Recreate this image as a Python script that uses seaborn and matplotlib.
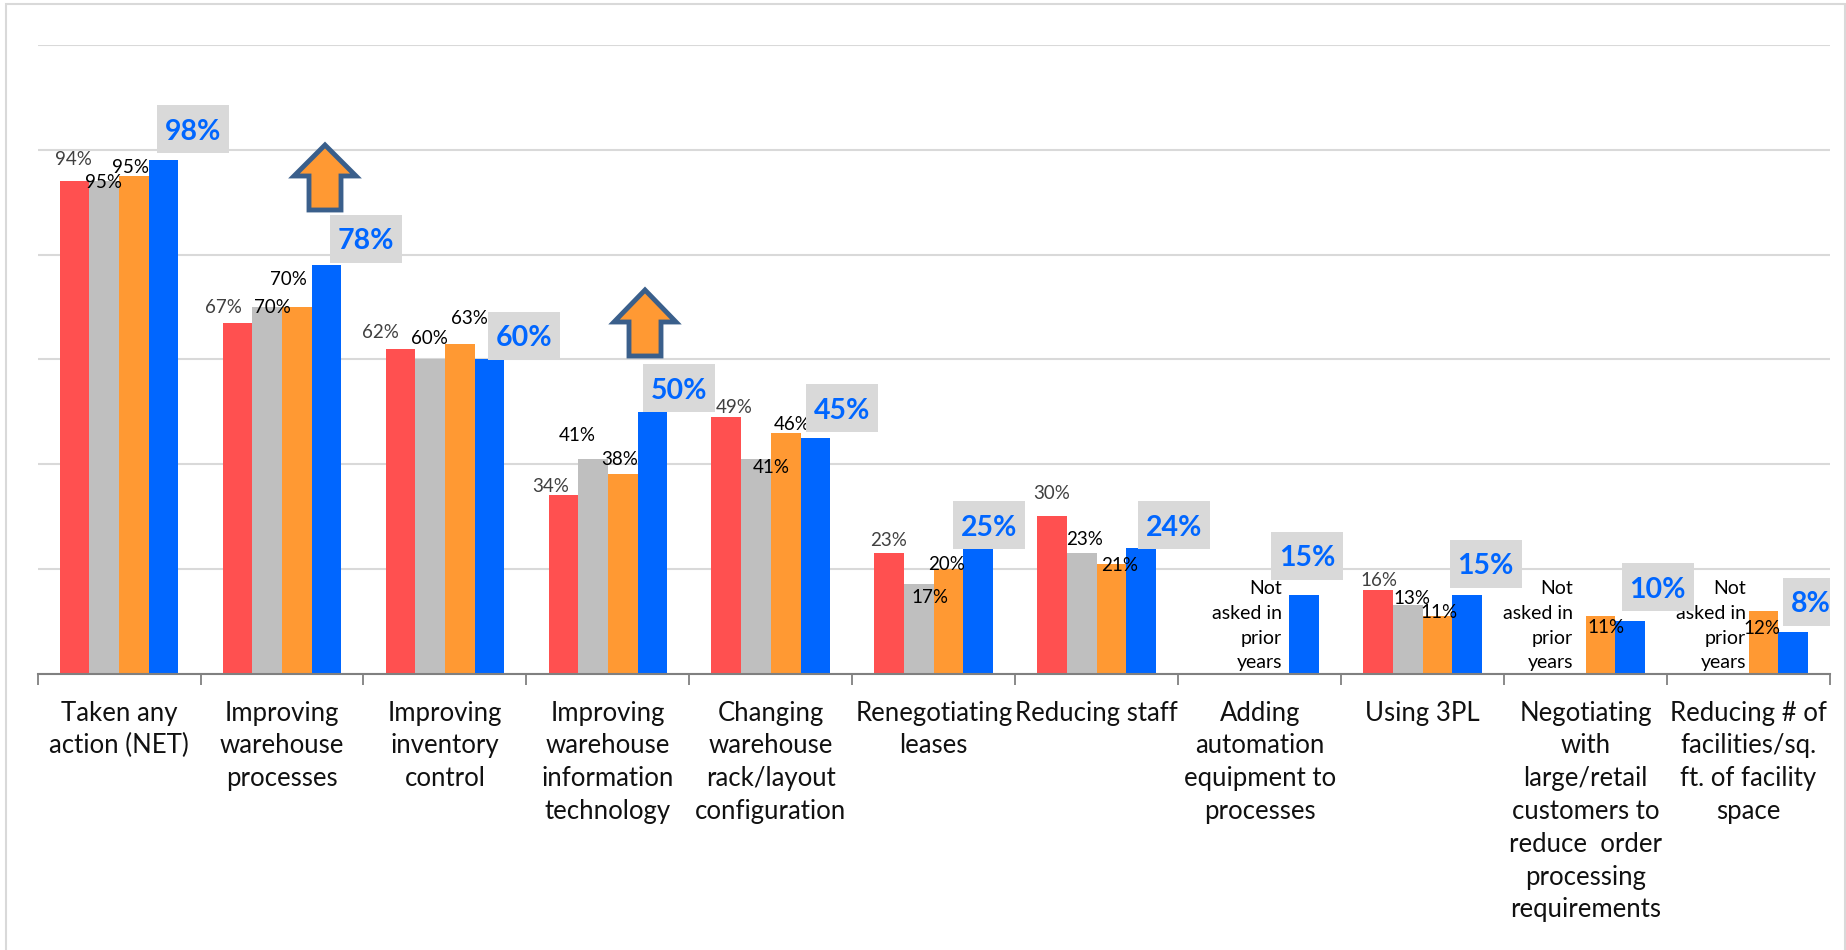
import numpy as np
import pandas as pd
import matplotlib
matplotlib.use("Agg")
import matplotlib.pyplot as plt
from matplotlib.patches import Polygon, Rectangle
import seaborn as sns

sns.set_theme(style="white")
plt.rcParams['font.family'] = ['Lato', 'DejaVu Sans']

categories = ["Taken any\naction (NET)", "Improving\nwarehouse\nprocesses", "Improving\ninventory\ncontrol",
              "Improving\nwarehouse\ninformation\ntechnology", "Changing\nwarehouse\nrack/layout\nconfiguration",
              "Renegotiating\nleases", "Reducing staff", "Adding\nautomation\nequipment to\nprocesses", "Using 3PL",
              "Negotiating\nwith\nlarge/retail\ncustomers to\nreduce  order\nprocessing\nrequirements",
              "Reducing # of\nfacilities/sq.\nft. of facility\nspace"]
series_names = ["Year 1", "Year 2", "Year 3", "Year 4"]
nan = float("nan")
s1 = [94, 67, 62, 34, 49, 23, 30, nan, 16, nan, nan]
s2 = [94, 70, 60, 41, 41, 17, 23, nan, 13, nan, nan]
s3 = [95, 70, 63, 38, 46, 20, 21, nan, 11, 11, 12]
s4 = [98, 78, 60, 50, 45, 24, 24, 15, 15, 10, 8]
palette = ["#FF5050", "#BFBFBF", "#FF9933", "#0066FF"]

# printed labels (the chart's printed text)
l1 = ["94%", "67%", "62%", "34%", "49%", "23%", "30%", None, "16%", None, None]
l2 = ["95%", "70%", "60%", "41%", "41%", "17%", "23%", None, "13%", None, None]
l3 = ["95%", "70%", "63%", "38%", "46%", "20%", "21%", None, "11%", "11%", "12%"]
l4 = ["98%", "78%", "60%", "50%", "45%", "25%", "24%", "15%", "15%", "10%", "8%"]

# label centres as read in the 1568-wide view
p1 = [(62,134),(190,260),(323,281),(468,412),(624,345),(755,458),(893,418),None,(1171,492),None,None]
p2 = [(88,154),(231,260),(365,286),(490,369),(655,396),(790,506),(921,457),None,(1199,507),None,None]
p3 = [(111,141),(245,236),(399,269),(526,389),(673,359),(804,478),(951,479),None,(1222,519),(1364,532),(1497,533)]
p4 = [(164,110),(311,203),(445,285),(577,330),(715,347),(840,446),(997,446),(1110,472),(1262,479),(1408,499),(1538,511)]
not_asked = [(1089,531.5),(1336,531.5),(1483,531.5)]
arrows = [(325,142,178,212),(645,287,324,358)]

W, H = 1846, 950
fig = plt.figure(figsize=(W/100, H/100), dpi=100, facecolor="white")
L, R, B, T = 37.6, 1830, 673.5, 45
ax = fig.add_axes([L/W, 1-B/H, (R-L)/W, (B-T)/H])
CW, YU = (R-L)/11, (B-T)/120

df = pd.DataFrame({"cat": np.tile(categories, 4),
                   "series": np.repeat(series_names, 11),
                   "value": s1+s2+s3+s4})
ax.set_axisbelow(True)
sns.barplot(data=df, x="cat", y="value", hue="series", hue_order=series_names, palette=palette,
            saturation=1, width=0.729, gap=0, legend=False, ax=ax, errorbar=None, zorder=2, linewidth=0)
ax.set_xlim(-0.5, 10.5)
ax.set_ylim(0, 120)
ax.set_yticks(np.arange(0, 121, 20))
ax.tick_params(axis="y", left=False, labelleft=False)
ax.grid(axis="y", color="#D9D9D9", lw=1.5)
ax.set_xlabel(""); ax.set_ylabel("")
for s in ["top", "left", "right"]:
    ax.spines[s].set_visible(False)
ax.spines["bottom"].set_color("#808080")
ax.spines["bottom"].set_linewidth(1.5)

ax.set_xticks(range(11))
ax.set_xticklabels(categories, fontsize=18.5, color="#111111", linespacing=1.39, va="top")
ax.tick_params(axis="x", which="major", length=0, pad=19.5)
ax.set_xticks(np.arange(-0.5, 11, 1), minor=True)
ax.tick_params(axis="x", which="minor", bottom=True, length=8, width=1.3, color="#808080")

def data_xy(p):
    return ((p[0]*W/1568 - L)/CW - 0.5, (B - p[1]*H/807)/YU)

for labs, pos, col in [(l1, p1, "#404040"), (l2, p2, "black"), (l3, p3, "black")]:
    for t, p in zip(labs, pos):
        if t:
            x, y = data_xy(p)
            ax.text(x, y, t, ha="center", va="center_baseline", fontsize=13.5, color=col, zorder=5)
for t, p in zip(l4, p4):
    x, y = data_xy(p)
    bw, bh = (72 if len(t) > 2 else 56)/CW, 48/YU
    ax.add_patch(Rectangle((x-bw/2, y-bh/2), bw, bh, facecolor="#D9D9D9", edgecolor="none", zorder=5.5))
    ax.text(x, y, t, ha="center", va="center_baseline", fontsize=20.5, fontweight="bold", color="#0066FF", zorder=6)
for p in not_asked:
    x, y = data_xy(p)
    ax.text(x, y, "Not\nasked in\nprior\nyears", ha="right", va="center", fontsize=14, color="black",
            linespacing=1.55, zorder=5)

for cx, tip, head, bot in arrows:
    sx, hx = 16, 31
    pts = [(cx, tip+3), (cx+hx, head-2), (cx+sx, head-2), (cx+sx, bot-2), (cx-sx, bot-2), (cx-sx, head-2), (cx-hx, head-2)]
    poly = [((px-L)/CW-0.5, (B-py)/YU) for px, py in pts]
    ax.add_patch(Polygon(poly, closed=True, facecolor="#FF9933", edgecolor="#3A5F8B", lw=3.5,
                         joinstyle="miter", zorder=6, clip_on=False))

fig.add_artist(Rectangle((6/W, -0.1), (1845-6)/W, 1.1-4/H, transform=fig.transFigure, fill=False,
                         edgecolor="#D9D9D9", lw=1.5))
fig.savefig("out.png", dpi=100)
